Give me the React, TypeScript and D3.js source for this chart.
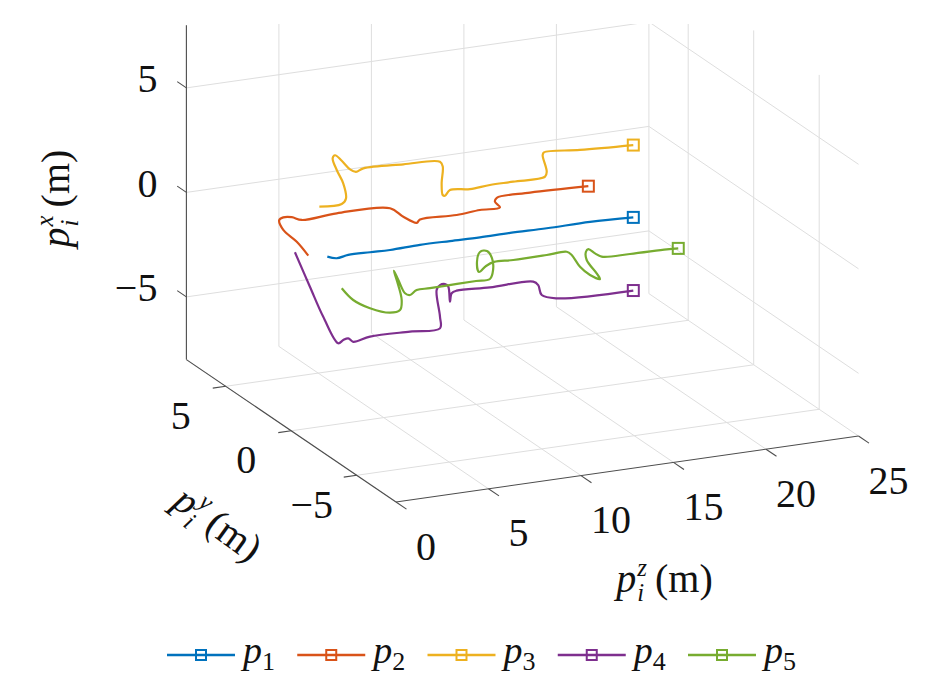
import React, { useRef, useEffect } from "react";
import * as d3 from "d3";

// axis limits and ticks
const zLim = [0, 25];
const yLim = [-8, 8];
const xLim = [-8, 8];
const zTicks = [0, 5, 10, 15, 20, 25];
const yTicks = [-5, 0, 5];
const xTicks = [-5, 0, 5];

// trajectories: p^z (along track) and p^x (lateral), plotted at p^y = 1 m
const p1Z = [2.66, 3.17, 3.79, 4.97, 6.05, 7.67, 9.29, 10.91, 12.54, 14.52, 16.86, 19.2];
const p1X = [-0.43, -0.57, -0.49, -0.51, -0.54, -0.5, -0.52, -0.55, -0.54, -0.57, -0.56, -0.64];

const p2Z = [1.63, 1.01, 0.28, 0.06, 0.28, 0.74, 1.28, 3.17, 6.05, 6.77, 7.49, 7.67, 9.65, 10.91, 11.99, 11.72, 11.82, 13.62, 16.77];
const p2X = [-0.25, 0.49, 1.15, 1.65, 1.75, 1.7, 1.5, 1.58, 1.46, 0.96, 0.58, 0.72, 0.68, 0.76, 0.75, 1.06, 1.23, 1.25, 1.16];

const p3Z = [2.23, 3.44, 3.67, 3.52, 3.17, 2.95, 3.08, 3.44, 3.89, 4.21, 4.61, 6.77, 8.75, 8.9, 8.84, 8.9, 9.02, 9.29, 10.37, 11.45, 12.71, 14.43, 14.52, 14.3, 14.37, 16.32, 19.2];
const p3X = [2.02, 1.99, 2.23, 2.97, 3.65, 4.24, 4.37, 4.06, 3.59, 3.43, 3.55, 3.47, 3.34, 3.09, 2.3, 1.73, 1.68, 1.92, 1.83, 1.89, 1.89, 1.91, 2.14, 2.96, 3.08, 2.95, 2.82];

const p4Z = [0.91, 1.72, 2.44, 3.25, 3.52, 3.79, 4.06, 4.97, 7.13, 8.75, 8.75, 8.57, 8.75, 9.02, 9.2, 9.29, 9.38, 9.65, 11.45, 13.79, 14.06, 14.25, 15.06, 19.2];
const p4X = [0.0, -1.75, -3.28, -4.65, -4.53, -4.48, -4.68, -4.55, -4.58, -4.63, -4.07, -2.77, -2.56, -2.54, -2.69, -3.42, -3.03, -2.94, -3.01, -3.03, -3.23, -3.73, -3.99, -4.14];

const p5Z = [3.44, 4.06, 4.97, 6.05, 6.59, 6.68, 6.41, 6.26, 6.5, 6.86, 7.13, 7.49, 8.21, 9.67, 10.7, 11.45, 11.62, 11.56, 11.29, 10.91, 10.75, 10.86, 11.24, 11.67, 12.71, 14.52, 15.6, 15.87, 16.32, 16.86, 17.4, 17.22, 16.68, 16.64, 16.77, 17.13, 17.49, 19.02, 21.01, 21.63];
const p5X = [-2.04, -2.68, -3.19, -3.54, -3.48, -3.01, -2.02, -1.56, -2.03, -2.71, -2.83, -2.64, -2.64, -2.62, -2.61, -2.61, -2.2, -1.62, -1.25, -1.25, -1.71, -2.2, -1.96, -1.82, -1.86, -1.85, -1.83, -2.02, -2.64, -3.1, -3.36, -3.07, -2.36, -1.96, -1.85, -2.1, -2.3, -2.37, -2.4, -2.43];

const seriesNames = ["1", "2", "3", "4", "5"];
const seriesZ = [p1Z, p2Z, p3Z, p4Z, p5Z];
const seriesX = [p1X, p2X, p3X, p4X, p5X];
const seriesY = [1, 1, 1, 1, 1];
const colors = ["#0072BD", "#D95319", "#EDB120", "#7E2F8E", "#77AC30"];

const WIDTH = 945;
const HEIGHT = 678;
const FONT = '"Liberation Serif", "DejaVu Serif", "Noto Serif", serif';

type P3 = [number, number, number]; // [z, y, x]

const App: React.FC = () => {
  const svgRef = useRef<SVGSVGElement | null>(null);

  useEffect(() => {
    const svg = d3.select(svgRef.current);
    svg.selectAll("*").remove();

    // box corners on screen: origin is (z=0, y=-8, x=-8)
    const origin = [396, 502];
    const zEnd = [858.5, 436];
    const yEnd = [186.4, 359.6];
    const xEnd = [396, 167.6];

    const zT = d3.scaleLinear().domain(zLim).range([0, 1]);
    const yT = d3.scaleLinear().domain(yLim).range([0, 1]);
    const xT = d3.scaleLinear().domain(xLim).range([0, 1]);

    const project = ([z, y, x]: P3): [number, number] => {
      const a = zT(z), b = yT(y), c = xT(x);
      return [
        origin[0] + a * (zEnd[0] - origin[0]) + b * (yEnd[0] - origin[0]) + c * (xEnd[0] - origin[0]),
        origin[1] + a * (zEnd[1] - origin[1]) + b * (yEnd[1] - origin[1]) + c * (xEnd[1] - origin[1]),
      ];
    };

    // clip at the top edge of the figure
    svg.append("defs")
      .append("clipPath")
      .attr("id", "figclip")
      .append("rect")
      .attr("x", 0)
      .attr("y", 24)
      .attr("width", WIDTH)
      .attr("height", HEIGHT - 24);

    const grid = svg.append("g").attr("clip-path", "url(#figclip)");

    const seg = (g: any, a: P3, b: P3, stroke: string, w: number) => {
      const pa = project(a);
      const pb = project(b);
      g.append("line")
        .attr("x1", pa[0])
        .attr("y1", pa[1])
        .attr("x2", pb[0])
        .attr("y2", pb[1])
        .attr("stroke", stroke)
        .attr("stroke-width", w);
    };

    const gridColor = "#dedede";
    // floor (x = -8)
    zTicks.forEach((z) => seg(grid, [z, yLim[0], xLim[0]], [z, yLim[1], xLim[0]], gridColor, 1));
    yTicks.forEach((y) => seg(grid, [zLim[0], y, xLim[0]], [zLim[1], y, xLim[0]], gridColor, 1));
    // back wall (y = 8)
    zTicks.forEach((z) => seg(grid, [z, yLim[1], xLim[0]], [z, yLim[1], xLim[1]], gridColor, 1));
    xTicks.forEach((x) => seg(grid, [zLim[0], yLim[1], x], [zLim[1], yLim[1], x], gridColor, 1));
    // side wall (z = 25)
    yTicks.forEach((y) => seg(grid, [zLim[1], y, xLim[0]], [zLim[1], y, xLim[1]], gridColor, 1));
    xTicks.forEach((x) => seg(grid, [zLim[1], yLim[0], x], [zLim[1], yLim[1], x], gridColor, 1));

    // axis lines and ticks
    const axisColor = "#4d4d4d";
    const axes = svg.append("g").attr("clip-path", "url(#figclip)");
    seg(axes, [zLim[0], yLim[1], xLim[0]], [zLim[0], yLim[1], xLim[1]], axisColor, 1.1);
    seg(axes, [zLim[0], yLim[0], xLim[0]], [zLim[0], yLim[1], xLim[0]], axisColor, 1.1);
    seg(axes, [zLim[0], yLim[0], xLim[0]], [zLim[1], yLim[0], xLim[0]], axisColor, 1.1);
    xTicks.forEach((x) => seg(axes, [zLim[0], yLim[1], x], [zLim[0], yLim[1] + 0.7, x], axisColor, 1.1));
    yTicks.forEach((y) => seg(axes, [zLim[0], y, xLim[0]], [zLim[0] - 0.7, y, xLim[0]], axisColor, 1.1));
    zTicks.forEach((z) => seg(axes, [z, yLim[0], xLim[0]], [z, yLim[0] - 0.8, xLim[0]], axisColor, 1.1));

    // tick labels
    const fmt = (v: number) => (v < 0 ? "\u2212" + Math.abs(v) : String(v));
    const labels = svg.append("g")
      .style("font-family", FONT)
      .style("font-size", "40px")
      .attr("fill", "#111");
    xTicks.forEach((x) => {
      const p = project([zLim[0], yLim[1], x]);
      labels.append("text")
        .attr("x", p[0] - 29)
        .attr("y", p[1] - 9)
        .attr("text-anchor", "end")
        .attr("dominant-baseline", "central")
        .text(fmt(x));
    });
    yTicks.forEach((y) => {
      const p = project([zLim[0], y, xLim[0]]);
      labels.append("text")
        .attr("x", p[0] - 45)
        .attr("y", p[1] + 29)
        .attr("text-anchor", "middle")
        .attr("dominant-baseline", "central")
        .text(fmt(y));
    });
    zTicks.forEach((z) => {
      const p = project([z, yLim[0], xLim[0]]);
      labels.append("text")
        .attr("x", p[0] + 30)
        .attr("y", p[1] + 44)
        .attr("text-anchor", "middle")
        .attr("dominant-baseline", "central")
        .text(fmt(z));
    });

    // math axis label p_i^c (m), centred at (cx, cy) and rotated
    const mathTitle = (sup: string, cx: number, cy: number, angle: number) => {
      const fs = 40;
      const outer = svg.append("g").attr("transform", `translate(${cx},${cy}) rotate(${angle})`);
      const g = outer.append("g").style("font-family", FONT).attr("fill", "#111");
      const base = g.append("text").attr("x", 0).attr("y", 0)
        .style("font-size", `${fs}px`).style("font-style", "italic").text("p");
      const bw = (base.node() as SVGTextElement).getComputedTextLength();
      const supT = g.append("text").attr("x", bw + 1).attr("y", -0.4 * fs)
        .style("font-size", `${0.62 * fs}px`).style("font-style", "italic").text(sup);
      const subT = g.append("text").attr("x", bw + 1).attr("y", 0.24 * fs)
        .style("font-size", `${0.62 * fs}px`).style("font-style", "italic").text("i");
      const sw = Math.max(
        (supT.node() as SVGTextElement).getComputedTextLength(),
        (subT.node() as SVGTextElement).getComputedTextLength()
      );
      g.append("text").attr("x", bw + sw + 9).attr("y", 0)
        .style("font-size", `${fs}px`).text("(m)");
      const bb = (g.node() as SVGGElement).getBBox();
      g.attr("transform", `translate(${-(bb.x + bb.width / 2)},${-(bb.y + bb.height / 2)})`);
    };
    mathTitle("x", 57, 200, -90);
    mathTitle("y", 216, 524, 36);
    mathTitle("z", 663, 580, 0);

    // trajectories
    const line = d3.line<P3>()
      .x((d) => project(d)[0])
      .y((d) => project(d)[1])
      .curve(d3.curveCatmullRom.alpha(0.5));

    const traj = svg.append("g");
    seriesZ.forEach((zs, i) => {
      const pts: P3[] = zs.map((z, k) => [z, seriesY[i], seriesX[i][k]]);
      traj.append("path")
        .datum(pts)
        .attr("fill", "none")
        .attr("stroke", colors[i])
        .attr("stroke-width", 2.2)
        .attr("stroke-linejoin", "round")
        .attr("d", line);
      const end = project(pts[pts.length - 1]);
      traj.append("rect")
        .attr("x", end[0] - 5.5)
        .attr("y", end[1] - 5.5)
        .attr("width", 11)
        .attr("height", 11)
        .attr("fill", "none")
        .attr("stroke", colors[i])
        .attr("stroke-width", 2);
    });

    // legend
    const legendX = d3.scalePoint<string>().domain(seriesNames).range([167, 688]);
    const ly = 655;
    const legend = svg.append("g").style("font-family", FONT).attr("fill", "#111");
    seriesNames.forEach((name, i) => {
      const x0 = legendX(name)!;
      legend.append("line")
        .attr("x1", x0).attr("x2", x0 + 68)
        .attr("y1", ly).attr("y2", ly)
        .attr("stroke", colors[i]).attr("stroke-width", 2.5);
      legend.append("rect")
        .attr("x", x0 + 34 - 5).attr("y", ly - 5)
        .attr("width", 10).attr("height", 10)
        .attr("fill", "none").attr("stroke", colors[i]).attr("stroke-width", 2);
      const t = legend.append("text").attr("x", x0 + 76).attr("y", ly + 8);
      t.append("tspan").style("font-size", "38px").style("font-style", "italic").text("p");
      t.append("tspan").style("font-size", "26px").attr("dy", 7).text(name);
    });
  }, []);

  return (
    <svg
      ref={svgRef}
      width={WIDTH}
      height={HEIGHT}
      style={{ position: "absolute", left: 0, top: 0, background: "#fff" }}
    />
  );
};

export default App;
